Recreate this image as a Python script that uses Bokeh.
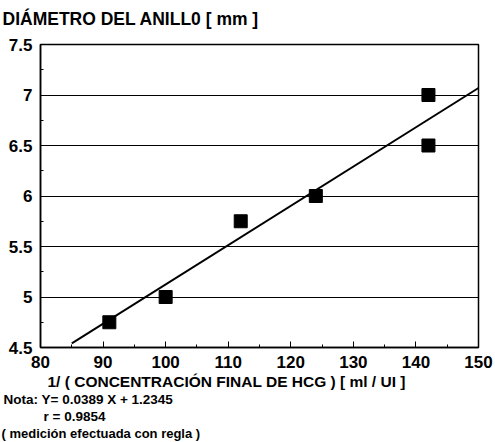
from bokeh.plotting import figure
from bokeh.models import Range1d, SingleIntervalTicker, NumeralTickFormatter, Title
from bokeh.embed import file_html
from bokeh.resources import INLINE

# data
conc_inv = [91, 100, 112, 124, 142, 142]
diametro = [4.75, 5.0, 5.75, 6.0, 6.5, 7.0]
slope = 0.0389
intercept = 1.2345
r_value = 0.9854
fit_x = [85, 150]
fit_y = [slope * xv + intercept for xv in fit_x]

title_text = "DIÁMETRO DEL ANILL0 [ mm ]"
xlabel_text = "1/ ( CONCENTRACIÓN FINAL DE HCG ) [ ml / UI ]"
note1 = "Nota:  Y= %.4f  X  +  %.4f" % (slope, intercept)
note2 = "r = %.4f" % r_value
note3 = "( medición efectuada con regla )"

FONT = "Liberation Sans"

p = figure(width=495, height=442, output_backend="svg", toolbar_location=None,
           x_range=Range1d(80, 150), y_range=Range1d(4.5, 7.5),
           min_border_left=40, min_border_right=17, min_border_top=44,
           min_border_bottom=95)
p.background_fill_color = "white"
p.border_fill_color = "white"
p.outline_line_color = "black"
p.outline_line_width = 1.5

p.title.text = title_text
p.title.align = "left"
p.title.offset = -38
p.title.text_font = FONT
p.title.text_font_style = "bold"
p.title.text_font_size = "17.5px"
p.title.text_color = "black"
p.title.vertical_align = "bottom"

# spacer between the title and the plot frame
p.add_layout(Title(text=" ", text_font_size="8px", standoff=0), "above")

p.xaxis.ticker = SingleIntervalTicker(interval=10, num_minor_ticks=2)
p.yaxis.ticker = SingleIntervalTicker(interval=0.5, num_minor_ticks=2)
p.yaxis.formatter = NumeralTickFormatter(format="0.[0]")

for ax in (p.xaxis, p.yaxis):
    ax.axis_line_color = "black"
    ax.axis_line_width = 1.5
    ax.major_tick_line_color = "black"
    ax.minor_tick_line_color = "black"
    ax.major_tick_in = 6
    ax.major_tick_out = 0
    ax.minor_tick_in = 3
    ax.minor_tick_out = 0
    ax.major_label_text_font = FONT
    ax.major_label_text_font_style = "bold"
    ax.major_label_text_font_size = "17px"
    ax.major_label_text_color = "black"
    ax.major_label_standoff = 8

p.xgrid.grid_line_color = None
p.ygrid.grid_line_color = "black"
p.ygrid.grid_line_width = 1

p.line(fit_x, fit_y, line_color="black", line_width=2)
p.scatter(conc_inv, diametro, marker="square", size=13,
          fill_color="black", line_color="black")

def below_title(text, size, offset, pad_top):
    t = Title(text=text, align="left", offset=offset, standoff=0,
              padding=(pad_top, 0, 0, 0),
              text_font=FONT, text_font_style="bold", text_font_size=size,
              text_color="black")
    p.add_layout(t, "below")

below_title(xlabel_text, "15.5px", 3, 4)
below_title(note1, "13.5px", -38, 1)
below_title(note2, "13.5px", 3, 0)
below_title(note3, "13px", -39, 0)

open("out.html", "w").write(file_html(p, INLINE))
